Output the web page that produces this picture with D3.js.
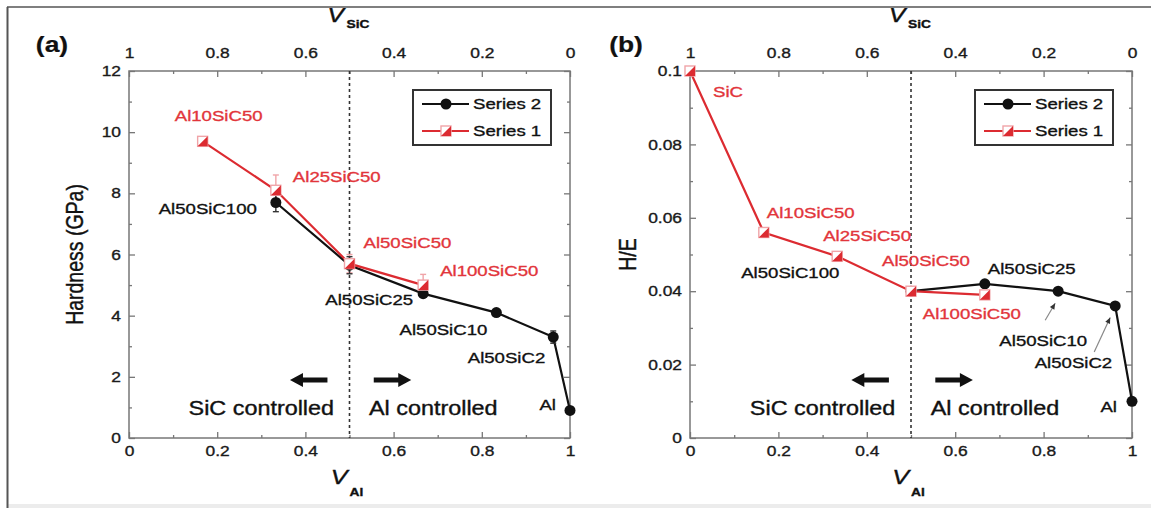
<!DOCTYPE html>
<html>
<head>
<meta charset="utf-8">
<script src="https://cdn.jsdelivr.net/npm/d3@7"></script>
<style>
  body { margin: 0; background: #fff; }
  svg { display: block; }
</style>
</head>
<body>
<svg id="fig" width="1151" height="508"></svg>
<script>
// ---------- data ----------
const xTicks = [0, 0.2, 0.4, 0.6, 0.8, 1];
const xTickLabels = ["0", "0.2", "0.4", "0.6", "0.8", "1"];
const xTopTickLabels = ["1", "0.8", "0.6", "0.4", "0.2", "0"];
const xMinor = [0.1, 0.3, 0.5, 0.7, 0.9];

const hardnessTicks = [0, 2, 4, 6, 8, 10, 12];
const hardnessTickLabels = ["0", "2", "4", "6", "8", "10", "12"];
const hardnessMinor = [1, 3, 5, 7, 9, 11];

const heTicks = [0, 0.02, 0.04, 0.06, 0.08, 0.1];
const heTickLabels = ["0", "0.02", "0.04", "0.06", "0.08", "0.1"];
const heMinor = [0.01, 0.03, 0.05, 0.07, 0.09];

// (a) hardness vs Al volume fraction
const hardnessS2X = [0.333, 0.5, 0.667, 0.833, 0.962, 1];
const hardnessS2 = [7.7, 5.65, 4.72, 4.1, 3.3, 0.9];
const hardnessS2Err = [0.3, 0.28, 0, 0, 0.2, 0];
const hardnessS2Names = ["Al50SiC100", "", "Al50SiC25", "Al50SiC10", "Al50SiC2", "Al"];

const hardnessS1X = [0.167, 0.333, 0.5, 0.667];
const hardnessS1 = [9.7, 8.1, 5.7, 5.0];
const hardnessS1Err = [0, 0.5, 0.3, 0.35];
const hardnessS1Names = ["Al10SiC50", "Al25SiC50", "Al50SiC50", "Al100SiC50"];

// (b) H/E vs Al volume fraction
const heS2X = [0.5, 0.667, 0.833, 0.962, 1];
const heS2 = [0.040, 0.042, 0.040, 0.036, 0.010];
const heS2Names = ["", "Al50SiC25", "Al50SiC10", "Al50SiC2", "Al"];

const heS1X = [0, 0.167, 0.333, 0.5, 0.667];
const heS1 = [0.100, 0.056, 0.0495, 0.040, 0.039];
const heS1Names = ["SiC", "Al10SiC50", "Al25SiC50", "Al50SiC50", "Al100SiC50"];
const heS1NamesBelow = ["", "", "Al50SiC100", "", ""];

const seriesNames = ["Series 2", "Series 1"];
const regionNames = ["SiC controlled", "Al controlled"];

// ---------- styling ----------
const FONT = '"Liberation Sans", Arial, Helvetica, sans-serif';
const SX = 1.2;              // horizontal stretch of all lettering
const RED = "#dc2b31";
const RED_TEXT = "#e2353b";
const RED_LIGHT = "#f0a4a8";
const BLACK = "#111";
const FRAME = "#777";

const svg = d3.select("#fig").style("font-family", FONT);

// keep everything below the figure's top edge
svg.append("defs").append("clipPath").attr("id", "inside")
  .append("rect").attr("x", 8).attr("y", 8).attr("width", 1143).attr("height", 500);
const root = svg.append("g").attr("clip-path", "url(#inside)");

root.append("rect").attr("x", 0).attr("y", 504).attr("width", 1151).attr("height", 4).attr("fill", "#ececec");

function stretchedText(g, x, y, str, o = {}) {
  const color = o.color || BLACK;
  return g.append("text")
    .attr("transform", `translate(${x},${y}) scale(${SX},1)` + (o.rotate ? ` rotate(${o.rotate})` : ""))
    .attr("text-anchor", o.anchor || "start")
    .attr("dy", o.dy || "0.35em")
    .attr("font-size", o.size || 15.5)
    .attr("font-weight", o.weight || "normal")
    .attr("font-style", o.italic ? "italic" : "normal")
    .attr("fill", color)
    .attr("stroke", color)
    .attr("stroke-width", o.stroke === undefined ? 0.35 : o.stroke)
    .text(str);
}

function redMarker(g, cx, cy) {
  const s = 5;
  g.append("rect").attr("x", cx - s).attr("y", cy - s).attr("width", 2 * s).attr("height", 2 * s)
    .attr("fill", "#fff").attr("stroke", RED_LIGHT).attr("stroke-width", 1.4);
  g.append("path").attr("d", `M${cx + s},${cy - s}L${cx + s},${cy + s}L${cx - s},${cy + s}Z`).attr("fill", RED);
}

function blackMarker(g, cx, cy) {
  g.append("circle").attr("cx", cx).attr("cy", cy).attr("r", 5.5).attr("fill", BLACK);
}

function bigArrow(g, x0, x1, yy) {
  // shaft from x0 to the head tip at x1
  const dir = Math.sign(x1 - x0);
  const headLen = 13, headHalf = 7, shaftHalf = 2.4;
  const hb = x1 - dir * headLen;
  g.append("path")
    .attr("d", `M${x0},${yy - shaftHalf}L${hb},${yy - shaftHalf}L${hb},${yy - headHalf}L${x1},${yy}` +
      `L${hb},${yy + headHalf}L${hb},${yy + shaftHalf}L${x0},${yy + shaftHalf}Z`)
    .attr("fill", BLACK);
}

function styleAxis(sel, textFn) {
  sel.select(".domain").remove();
  sel.selectAll(".tick line").attr("stroke", FRAME).attr("stroke-width", 1.3);
  sel.selectAll(".tick text").attr("font-size", 14.5).attr("fill", "#1a1a1a")
    .attr("stroke", "#1a1a1a").attr("stroke-width", 0.35).attr("font-family", FONT);
  if (textFn) textFn(sel.selectAll(".tick text"));
}

function drawPanel(cfg) {
  const g = root.append("g");
  const x = d3.scaleLinear().domain([0, 1]).range([cfg.left, cfg.right]);
  const xTop = d3.scaleLinear().domain([1, 0]).range([cfg.left, cfg.right]);
  const y = d3.scaleLinear().domain([0, cfg.yMax]).range([cfg.bottom, cfg.top]);

  // axes with inward ticks on all four sides
  const bottom = g.append("g").attr("transform", `translate(0,${cfg.bottom})`)
    .call(d3.axisBottom(x).tickValues(xTicks).tickSize(-6).tickPadding(8)
      .tickFormat((d, i) => xTickLabels[i]));
  styleAxis(bottom, t => t.attr("transform", `scale(${SX},1)`));
  g.append("g").attr("transform", `translate(0,${cfg.bottom})`)
    .call(d3.axisBottom(x).tickValues(xMinor).tickSize(-3).tickFormat(""))
    .call(styleAxis);

  const top = g.append("g").attr("transform", `translate(0,${cfg.top})`)
    .call(d3.axisTop(xTop).tickValues(xTicks.map(v => 1 - v)).tickSize(-6).tickPadding(13)
      .tickFormat((d, i) => xTopTickLabels[i]));
  styleAxis(top, t => t.attr("transform", `scale(${SX},1)`));
  g.append("g").attr("transform", `translate(0,${cfg.top})`)
    .call(d3.axisTop(x).tickValues(xMinor).tickSize(-3).tickFormat(""))
    .call(styleAxis);

  const left = g.append("g").attr("transform", `translate(${cfg.left},0)`)
    .call(d3.axisLeft(y).tickValues(cfg.yTicks).tickSize(-6).tickPadding(8 / SX)
      .tickFormat((d, i) => cfg.yTickLabels[i]));
  styleAxis(left, t => t.attr("transform", `scale(${SX},1)`));
  g.append("g").attr("transform", `translate(${cfg.left},0)`)
    .call(d3.axisLeft(y).tickValues(cfg.yMinor).tickSize(-3).tickFormat(""))
    .call(styleAxis);

  g.append("g").attr("transform", `translate(${cfg.right},0)`)
    .call(d3.axisRight(y).tickValues(cfg.yTicks).tickSize(-6).tickFormat(""))
    .call(styleAxis);
  g.append("g").attr("transform", `translate(${cfg.right},0)`)
    .call(d3.axisRight(y).tickValues(cfg.yMinor).tickSize(-3).tickFormat(""))
    .call(styleAxis);

  g.append("rect").attr("x", cfg.left).attr("y", cfg.top)
    .attr("width", cfg.right - cfg.left).attr("height", cfg.bottom - cfg.top)
    .attr("fill", "none").attr("stroke", FRAME).attr("stroke-width", 1.5);

  // axis titles
  const mid = (cfg.left + cfg.right) / 2;
  stretchedText(g, mid - 2, cfg.bottom + 46, "V", { italic: true, size: 21, anchor: "end", dy: "0" });
  stretchedText(g, mid, cfg.bottom + 58, "Al", { size: 11.5, weight: "bold", dy: "0" });
  stretchedText(g, mid - 5, 22, "V", { italic: true, size: 22, anchor: "end", dy: "0" });
  stretchedText(g, mid - 3, 28, "SiC", { size: 11.5, weight: "bold", dy: "0" });
  stretchedText(g, cfg.yTitleX, (cfg.top + cfg.bottom) / 2, cfg.yTitle, { size: 19.5, anchor: "middle", rotate: -90 });
  stretchedText(g, cfg.tagX, 44, cfg.tag, { size: 22, weight: "bold", anchor: "middle", stroke: 0.2 });

  // boundary between the two regimes
  g.append("line").attr("x1", x(0.5)).attr("x2", x(0.5)).attr("y1", cfg.top).attr("y2", cfg.bottom)
    .attr("stroke", "#333").attr("stroke-width", 1.6).attr("stroke-dasharray", "3,3");

  // regime labels and arrows
  const yReg = cfg.bottom - 30;
  stretchedText(g, x(0.30), yReg, regionNames[0], { size: 19.5, anchor: "middle" });
  stretchedText(g, x(0.69), yReg, regionNames[1], { size: 19.5, anchor: "middle" });
  bigArrow(g, x(0.45), x(0.365), cfg.bottom - 58);
  bigArrow(g, x(0.555), x(0.64), cfg.bottom - 58);

  // series
  const line = d3.line().x(d => x(d[0])).y(d => y(d[1]));
  const s2 = d3.zip(cfg.s2x, cfg.s2y);
  const s1 = d3.zip(cfg.s1x, cfg.s1y);
  g.append("path").attr("d", line(s2)).attr("fill", "none").attr("stroke", BLACK).attr("stroke-width", 2.2);
  g.append("path").attr("d", line(s1)).attr("fill", "none").attr("stroke", RED).attr("stroke-width", 2.2);

  // error bars
  function errBars(pts, errs, color) {
    pts.forEach((p, i) => {
      const e = errs ? errs[i] : 0;
      if (!e) return;
      const cx = x(p[0]), y0 = y(p[1] - e), y1 = y(p[1] + e);
      g.append("line").attr("x1", cx).attr("x2", cx).attr("y1", y0).attr("y2", y1).attr("stroke", color).attr("stroke-width", 1.4);
      [y0, y1].forEach(yy => g.append("line").attr("x1", cx - 3).attr("x2", cx + 3).attr("y1", yy).attr("y2", yy)
        .attr("stroke", color).attr("stroke-width", 1.4));
    });
  }
  errBars(s1, cfg.s1err, RED_LIGHT);
  errBars(s2, cfg.s2err, "#333");

  s2.forEach(p => blackMarker(g, x(p[0]), y(p[1])));
  s1.forEach(p => redMarker(g, x(p[0]), y(p[1])));

  // point labels
  cfg.labels.forEach(l => {
    const pts = l.series === 1 ? s1 : s2;
    const p = pts[l.i];
    stretchedText(g, x(p[0]) + l.dx, y(p[1]) + l.dy, l.names[l.i], { anchor: l.anchor, color: l.color });
  });

  // pointer arrows
  (cfg.pointers || []).forEach(pt => {
    const p = (pt.series === 1 ? s1 : s2)[pt.i];
    const px = x(p[0]), py = y(p[1]);
    const x0 = px + pt.tail[0], y0 = py + pt.tail[1], x1 = px + pt.tip[0], y1 = py + pt.tip[1];
    const ang = Math.atan2(y1 - y0, x1 - x0);
    g.append("line").attr("x1", x0).attr("y1", y0).attr("x2", x1).attr("y2", y1).attr("stroke", "#888").attr("stroke-width", 1.2);
    const hl = 6, hw = 2.6;
    const bx = x1 - hl * Math.cos(ang), by = y1 - hl * Math.sin(ang);
    g.append("path").attr("d", `M${x1},${y1}L${bx - hw * Math.sin(ang)},${by + hw * Math.cos(ang)}L${bx + hw * Math.sin(ang)},${by - hw * Math.cos(ang)}Z`)
      .attr("fill", "#333");
  });

  // legend
  const lx = cfg.right - 157, ly = cfg.top + 19;
  g.append("rect").attr("x", lx).attr("y", ly).attr("width", 138).attr("height", 55)
    .attr("fill", "#fff").attr("stroke", "#333").attr("stroke-width", 2);
  [0, 1].forEach(k => {
    const yy = ly + 14 + k * 27;
    g.append("line").attr("x1", lx + 9).attr("x2", lx + 56).attr("y1", yy).attr("y2", yy)
      .attr("stroke", k === 0 ? BLACK : RED).attr("stroke-width", 2);
    if (k === 0) blackMarker(g, lx + 33, yy); else redMarker(g, lx + 33, yy);
    stretchedText(g, lx + 60, yy, seriesNames[k], { size: 15.5 });
  });
}

drawPanel({
  left: 129, right: 570, top: 71, bottom: 438,
  yMax: 12, yTicks: hardnessTicks, yTickLabels: hardnessTickLabels, yMinor: hardnessMinor,
  yTitle: "Hardness (GPa)", yTitleX: 75, tag: "(a)", tagX: 52,
  s2x: hardnessS2X, s2y: hardnessS2, s2err: hardnessS2Err,
  s1x: hardnessS1X, s1y: hardnessS1, s1err: hardnessS1Err,
  labels: [
    { series: 1, i: 0, names: hardnessS1Names, anchor: "middle", dx: 16, dy: -26, color: RED_TEXT },
    { series: 1, i: 1, names: hardnessS1Names, anchor: "start", dx: 17, dy: -14, color: RED_TEXT },
    { series: 1, i: 2, names: hardnessS1Names, anchor: "start", dx: 14, dy: -21, color: RED_TEXT },
    { series: 1, i: 3, names: hardnessS1Names, anchor: "start", dx: 17, dy: -15, color: RED_TEXT },
    { series: 2, i: 0, names: hardnessS2Names, anchor: "end", dx: -19, dy: 6 },
    { series: 2, i: 2, names: hardnessS2Names, anchor: "end", dx: -10, dy: 6 },
    { series: 2, i: 3, names: hardnessS2Names, anchor: "end", dx: -9, dy: 17 },
    { series: 2, i: 4, names: hardnessS2Names, anchor: "end", dx: -8, dy: 20 },
    { series: 2, i: 5, names: hardnessS2Names, anchor: "end", dx: -14, dy: -6 }
  ]
});

drawPanel({
  left: 690, right: 1132, top: 71, bottom: 438,
  yMax: 0.1, yTicks: heTicks, yTickLabels: heTickLabels, yMinor: heMinor,
  yTitle: "H/E", yTitleX: 628, tag: "(b)", tagX: 626,
  s2x: heS2X, s2y: heS2,
  s1x: heS1X, s1y: heS1,
  labels: [
    { series: 1, i: 0, names: heS1Names, anchor: "start", dx: 23, dy: 21, color: RED_TEXT },
    { series: 1, i: 1, names: heS1Names, anchor: "start", dx: 3, dy: -20, color: RED_TEXT },
    { series: 1, i: 2, names: heS1Names, anchor: "start", dx: -14, dy: -21, color: RED_TEXT },
    { series: 1, i: 2, names: heS1NamesBelow, anchor: "start", dx: -96, dy: 16 },
    { series: 1, i: 3, names: heS1Names, anchor: "start", dx: -29, dy: -31, color: RED_TEXT },
    { series: 1, i: 4, names: heS1Names, anchor: "middle", dx: -13, dy: 19, color: RED_TEXT },
    { series: 2, i: 1, names: heS2Names, anchor: "start", dx: 3, dy: -15 },
    { series: 2, i: 2, names: heS2Names, anchor: "end", dx: 29, dy: 49 },
    { series: 2, i: 3, names: heS2Names, anchor: "end", dx: -3, dy: 57 },
    { series: 2, i: 4, names: heS2Names, anchor: "end", dx: -15, dy: 5 }
  ],
  pointers: [
    { series: 2, i: 2, tail: [-13, 29], tip: [-3, 12] },
    { series: 2, i: 3, tail: [-21, 46], tip: [-5, 11.5] }
  ]
});

// outer figure border (top and left edges)
svg.append("line").attr("x1", 7).attr("x2", 1151).attr("y1", 7).attr("y2", 7).attr("stroke", "#555").attr("stroke-width", 1.6);
svg.append("line").attr("x1", 7.5).attr("x2", 7.5).attr("y1", 7).attr("y2", 508).attr("stroke", "#555").attr("stroke-width", 2);
</script>
</body>
</html>
